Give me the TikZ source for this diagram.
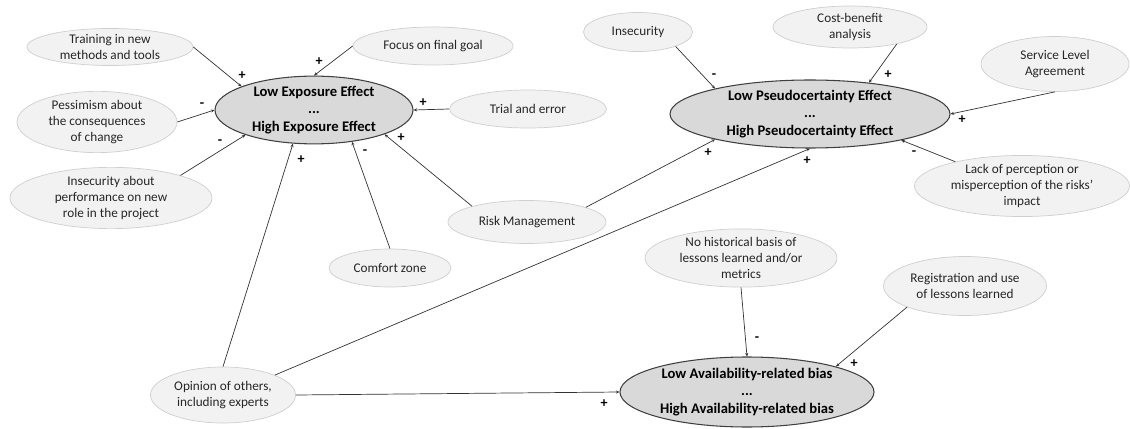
\documentclass[tikz,border=0pt]{standalone}
\usepackage{fontspec}
\setmainfont{Carlito}
\usetikzlibrary{shapes.geometric,arrows.meta}
\definecolor{factorfill}{HTML}{F2F2F2}
\definecolor{factorline}{HTML}{CFCFCF}
\definecolor{factortext}{HTML}{262626}
\definecolor{effectfill}{HTML}{D9D9D9}
\definecolor{effectline}{HTML}{404040}
\definecolor{linkcolor}{HTML}{333333}

\begin{document}
\begin{tikzpicture}[
            x=0.03cm, y=-0.03cm,
            factor/.style 2 args={ellipse, draw=factorline, fill=factorfill, line width=0.6pt,
                inner sep=0pt, align=center, text=factortext,
                minimum width=#1*0.03cm, minimum height=#2*0.03cm,
                font=\fontsize{11.3}{13.6}\selectfont},
            effect/.style 2 args={ellipse, draw=effectline, fill=effectfill, line width=0.9pt,
                inner sep=0pt, align=center,
                minimum width=#1*0.03cm, minimum height=#2*0.03cm,
                font=\bfseries\fontsize{12.5}{15}\selectfont},
            link/.style={draw=linkcolor, line width=0.6pt, -{Stealth[length=3pt,width=2.6pt]}},
            sign/.style={inner sep=0pt, font=\bfseries\fontsize{12}{12}\selectfont}
        ]
            \useasboundingbox (0,0) rectangle (1130,429);

            % effects
            \node[effect={198}{66}] (exposure) at (314,110) {Low Exposure Effect\\...\\High Exposure Effect};
            \node[effect={280}{68}] (pseudo) at (810,114) {Low Pseudocertainty Effect\\...\\High Pseudocertainty Effect};
            \node[effect={254}{70}] (avail) at (747,392) {Low Availability-related bias\\...\\High Availability-related bias};

            % factors
            \node[factor={166}{37}] (training) at (110,47) {Training in new\\methods and tools};
            \node[factor={160}{60}] (pessimism) at (97,122) {Pessimism about\\the consequences\\of change};
            \node[factor={202}{57}] (insecrole) at (111,198) {Insecurity about\\performance on new\\role in the project};
            \node[factor={160}{38}] (focus) at (433,46) {Focus on final goal};
            \node[factor={157}{38}] (trial) at (528,109) {Trial and error};
            \node[factor={158}{43}] (risk) at (527,222) {Risk Management};
            \node[factor={122}{38}] (comfort) at (390,268) {Comfort zone};
            \node[factor={145}{56}] (opinion) at (223,395) {Opinion of others,\\including experts};
            \node[factor={109}{39}] (insecurity) at (638,32) {Insecurity};
            \node[factor={154}{42}] (cost) at (850,27) {Cost-benefit\\analysis};
            \node[factor={148}{55}] (service) at (1055,64) {Service Level\\Agreement};
            \node[factor={215}{54}] (lack) at (1022,186) {Lack of perception or\\misperception of the risks'\\impact};
            \node[factor={192}{58}] (nohist) at (741,258) {No historical basis of\\lessons learned and/or\\metrics};
            \node[factor={163}{59}] (regist) at (965,286) {Registration and use\\of lessons learned};

            % links into exposure
            \draw[link] (training.east) -- (exposure.162);
            \draw[link] (focus.west) -- (exposure.north);
            \draw[link] (pessimism.east) -- (exposure.west);
            \draw[link] (insecrole.18) -- (exposure.200);
            \draw[link] (trial.west) -- (exposure.east);
            \draw[link] (risk.164) -- (exposure.341);
            \draw[link] (comfort.north) -- (exposure.320);
            \draw[link] (opinion.north) -- (exposure.238);

            % links into pseudocertainty
            \draw[link] (risk.14) -- (pseudo.195);
            \draw[link] (opinion.21) -- (pseudo.south);
            \draw[link] (insecurity.339) -- (pseudo.165);
            \draw[link] (cost.340) -- (pseudo.28);
            \draw[link] (service.south) -- (pseudo.east);
            \draw[link] (lack.160) -- (pseudo.344);

            % links into availability
            \draw[link] (nohist.south) -- (avail.north);
            \draw[link] (regist.200) -- (avail.16);
            \draw[link] (opinion.east) -- (avail.west);

            % signs
            \node[sign] (s1) at (242,76) {+};
            \node[sign] (s2) at (319,62) {+};
            \node[sign] (s3) at (202,105) {-};
            \node[sign] (s4) at (220,142) {-};
            \node[sign] (s5) at (423,103) {+};
            \node[sign] (s6) at (401,138) {+};
            \node[sign] (s7) at (365,152) {-};
            \node[sign] (s8) at (301,160) {+};
            \node[sign] (s9) at (708,153) {+};
            \node[sign] (s10) at (807,161) {+};
            \node[sign] (s11) at (714,76) {-};
            \node[sign] (s12) at (888,75) {+};
            \node[sign] (s13) at (962,120) {+};
            \node[sign] (s14) at (914,153) {-};
            \node[sign] (s15) at (757,339) {-};
            \node[sign] (s16) at (854,364) {+};
            \node[sign] (s17) at (604,404) {+};

        \end{tikzpicture}
\end{document}
